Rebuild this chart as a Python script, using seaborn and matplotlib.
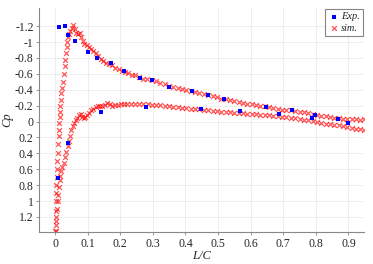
import numpy as np
import pandas as pd
import matplotlib
matplotlib.use('Agg')
import matplotlib.pyplot as plt
import seaborn as sns
from matplotlib.ticker import FuncFormatter

# Experimental points (upper + lower surface)
exp_x = [0.011, 0.031, 0.041, 0.062, 0.101, 0.130, 0.170, 0.211, 0.260, 0.298,
         0.350, 0.420, 0.469, 0.519, 0.648, 0.728, 0.798, 0.868,
         0.010, 0.041, 0.140, 0.279, 0.449, 0.568, 0.688, 0.789, 0.898]
exp_cp = [-1.19, -1.20, -1.095, -1.02, -0.88, -0.80, -0.735, -0.64, -0.55, -0.52,
          -0.43, -0.383, -0.34, -0.28, -0.186, -0.144, -0.078, -0.03,
          0.71, 0.27, -0.115, -0.18, -0.16, -0.13, -0.10, -0.04, 0.02]

# Simulation, upper surface
sim_up_x = [0.001, 0.002, 0.002, 0.003, 0.003, 0.004, 0.005, 0.006, 0.007, 0.008,
            0.010, 0.011, 0.012, 0.013, 0.014, 0.015, 0.016, 0.017, 0.019, 0.021,
            0.024, 0.027, 0.029, 0.031, 0.033, 0.035, 0.037, 0.040, 0.043, 0.047,
            0.051, 0.055, 0.060, 0.065, 0.070, 0.075, 0.080, 0.085, 0.090, 0.097,
            0.103, 0.110, 0.117, 0.125, 0.133, 0.140, 0.148, 0.156, 0.165, 0.175,
            0.185, 0.195, 0.205, 0.215, 0.225, 0.235, 0.245, 0.258, 0.270, 0.283,
            0.297, 0.310, 0.323, 0.336, 0.350, 0.363, 0.376, 0.390, 0.403, 0.416,
            0.430, 0.443, 0.456, 0.470, 0.483, 0.497, 0.510, 0.523, 0.536, 0.550,
            0.563, 0.577, 0.590, 0.603, 0.617, 0.630, 0.643, 0.657, 0.670, 0.683,
            0.697, 0.710, 0.723, 0.737, 0.750, 0.763, 0.777, 0.790, 0.803, 0.817,
            0.830, 0.843, 0.857, 0.870, 0.883, 0.897, 0.910, 0.923, 0.937, 0.948]
sim_up_cp = [1.38, 1.25, 1.12, 1.00, 0.90, 0.80, 0.70, 0.60, 0.50, 0.40,
             0.28, 0.18, 0.10, 0.02, -0.06, -0.12, -0.20, -0.27, -0.36, -0.42,
             -0.50, -0.60, -0.70, -0.78, -0.86, -0.94, -1.00, -1.06, -1.10, -1.14,
             -1.18, -1.21, -1.17, -1.12, -1.10, -1.12, -1.07, -1.02, -0.98, -0.96,
             -0.94, -0.91, -0.89, -0.86, -0.82, -0.79, -0.76, -0.74, -0.72, -0.71,
             -0.68, -0.66, -0.64, -0.62, -0.61, -0.59, -0.58, -0.56, -0.54, -0.53,
             -0.52, -0.51, -0.49, -0.47, -0.45, -0.44, -0.42, -0.41, -0.40, -0.39,
             -0.37, -0.355, -0.345, -0.335, -0.32, -0.305, -0.29, -0.28, -0.27, -0.26,
             -0.245, -0.235, -0.225, -0.215, -0.205, -0.195, -0.19, -0.18, -0.17, -0.16,
             -0.15, -0.145, -0.14, -0.13, -0.125, -0.115, -0.105, -0.095, -0.085, -0.075,
             -0.065, -0.055, -0.048, -0.042, -0.036, -0.032, -0.029, -0.027, -0.026, -0.028]

# Simulation, lower surface
sim_lo_x = [0.002, 0.003, 0.004, 0.006, 0.008, 0.010, 0.012, 0.014, 0.016, 0.019,
            0.022, 0.026, 0.030, 0.034, 0.038, 0.042, 0.046, 0.050, 0.054, 0.058,
            0.063, 0.068, 0.073, 0.078, 0.083, 0.088, 0.093, 0.098, 0.103, 0.110,
            0.117, 0.124, 0.131, 0.138, 0.145, 0.152, 0.159, 0.167, 0.175, 0.183,
            0.192, 0.202, 0.212, 0.222, 0.232, 0.245, 0.258, 0.271, 0.284, 0.297,
            0.310, 0.323, 0.336, 0.350, 0.363, 0.376, 0.390, 0.403, 0.416, 0.430,
            0.443, 0.456, 0.470, 0.483, 0.497, 0.510, 0.523, 0.536, 0.550, 0.563,
            0.577, 0.590, 0.603, 0.617, 0.630, 0.643, 0.657, 0.670, 0.683, 0.697,
            0.710, 0.723, 0.737, 0.750, 0.763, 0.777, 0.790, 0.803, 0.817, 0.830,
            0.843, 0.857, 0.870, 0.883, 0.897, 0.910, 0.923, 0.937, 0.948]
sim_lo_cp = [1.38, 1.30, 1.20, 1.10, 1.00, 0.92, 0.82, 0.74, 0.68, 0.62,
             0.57, 0.52, 0.45, 0.38, 0.31, 0.25, 0.18, 0.11, 0.06, 0.02,
             -0.02, -0.05, -0.08, -0.09, -0.06, -0.04, -0.06, -0.08, -0.11, -0.14,
             -0.16, -0.18, -0.19, -0.20, -0.20, -0.21, -0.23, -0.22, -0.20, -0.21,
             -0.21, -0.22, -0.22, -0.22, -0.22, -0.22, -0.22, -0.22, -0.215, -0.21,
             -0.21, -0.205, -0.20, -0.19, -0.185, -0.18, -0.17, -0.165, -0.16, -0.155,
             -0.153, -0.15, -0.145, -0.135, -0.13, -0.125, -0.12, -0.115, -0.11, -0.11,
             -0.105, -0.10, -0.097, -0.094, -0.088, -0.082, -0.077, -0.072, -0.066, -0.060,
             -0.055, -0.050, -0.043, -0.035, -0.026, -0.017, -0.005, 0.007, 0.018, 0.026,
             0.033, 0.040, 0.045, 0.055, 0.065, 0.075, 0.088, 0.098, 0.108]

x_ticks = [0, 0.1, 0.2, 0.3, 0.4, 0.5, 0.6, 0.7, 0.8, 0.9]
y_ticks = [-1.2, -1, -0.8, -0.6, -0.4, -0.2, 0, 0.2, 0.4, 0.6, 0.8, 1, 1.2]

sns.set_style('whitegrid')
plt.rcParams['font.family'] = ['Liberation Serif', 'DejaVu Serif']
plt.rcParams['axes.unicode_minus'] = False

df_sim = pd.DataFrame({'x': sim_up_x + sim_lo_x, 'cp': sim_up_cp + sim_lo_cp})
df_exp = pd.DataFrame({'x': exp_x, 'cp': exp_cp})

fig = plt.figure(figsize=(3.73, 2.64), dpi=100)
ax = fig.add_axes([0.105, 0.121, 0.871, 0.849])

sns.scatterplot(data=df_sim, x='x', y='cp', marker='x', color='red', s=12,
                linewidth=0.9, alpha=0.65, label='sim.', ax=ax, zorder=2)
sns.scatterplot(data=df_exp, x='x', y='cp', marker='s', color='#0000ff', s=9,
                linewidth=0, label='Exp.', ax=ax, zorder=3)

ax.set_xlim(-0.049, 0.948)
ax.set_ylim(1.39, -1.43)
ax.set_xticks(x_ticks)
ax.set_yticks(y_ticks)
fmt = FuncFormatter(lambda v, p: '%g' % round(v, 2))
ax.xaxis.set_major_formatter(fmt)
ax.yaxis.set_major_formatter(fmt)
ax.tick_params(labelsize=8.5, length=2.5, width=0.6, color='#888888', pad=1.5,
               direction='out', left=True, bottom=True)
ax.grid(True, color='#eeeeee', linewidth=0.7)
for side in ['top', 'right']:
    ax.spines[side].set_visible(False)
for side in ['left', 'bottom']:
    ax.spines[side].set_color('#888888')
    ax.spines[side].set_linewidth(0.8)

ax.set_xlabel('L/C', fontsize=9, style='italic', labelpad=0)
ax.set_ylabel('Cp', fontsize=9, style='italic', labelpad=1)

handles, labels = ax.get_legend_handles_labels()
leg = ax.legend(handles[::-1], labels[::-1], loc='upper right',
                prop={'style': 'italic', 'size': 7.5}, frameon=True, fancybox=False,
                borderaxespad=0.1, handletextpad=0.2, handlelength=1.0,
                borderpad=0.3, labelspacing=0.2)
leg.get_frame().set_edgecolor('#666666')
leg.get_frame().set_linewidth(0.8)

fig.savefig('out.png', dpi=100)
